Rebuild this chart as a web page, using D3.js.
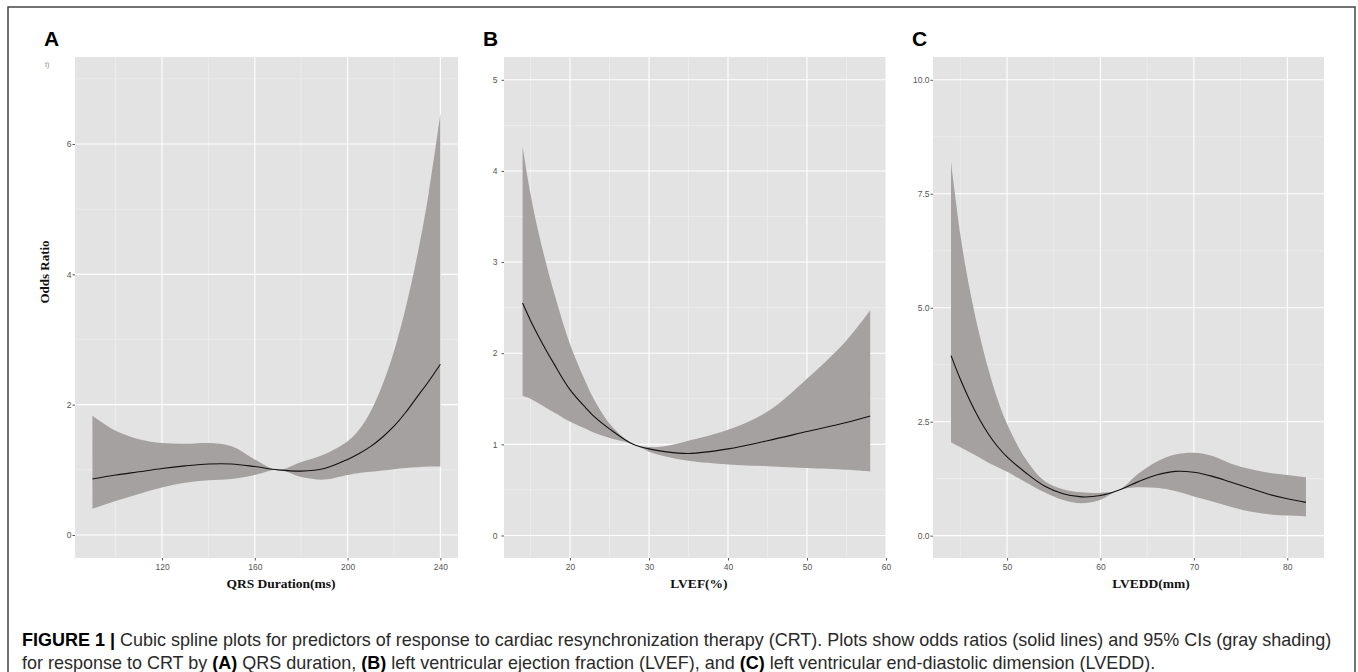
<!DOCTYPE html>
<html>
<head>
<meta charset="utf-8">
<script src="https://cdn.jsdelivr.net/npm/d3@7"></script>
<style>
  body { margin: 0; background: #fff; }
</style>
</head>
<body>
<script>
// Panel A: QRS duration
var qrsX  = [90, 100, 110, 120, 130, 140, 150, 160, 170, 180, 190, 200, 205, 210, 215, 220, 225, 230, 235, 240];
var qrsOR = [0.86, 0.92, 0.97, 1.02, 1.06, 1.09, 1.09, 1.05, 1.00, 0.98, 1.02, 1.16, 1.25, 1.36, 1.50, 1.67, 1.88, 2.12, 2.36, 2.62];
var qrsLo = [0.40, 0.52, 0.63, 0.73, 0.80, 0.84, 0.86, 0.92, 1.00, 0.89, 0.85, 0.92, 0.95, 0.97, 0.99, 1.01, 1.03, 1.04, 1.05, 1.05];
var qrsHi = [1.83, 1.60, 1.47, 1.41, 1.40, 1.41, 1.36, 1.16, 1.00, 1.12, 1.24, 1.44, 1.62, 1.90, 2.30, 2.82, 3.48, 4.28, 5.25, 6.46];
var qrsXTicks = [120, 160, 200, 240];
var qrsXMinor = [100, 140, 180, 220];
var qrsYTicks = [0, 2, 4, 6];
var qrsYMinor = [1, 3, 5, 7];

// Panel B: LVEF
var lvefX  = [14, 15, 16, 17, 18, 20, 22, 23, 25, 28, 30, 32, 35, 40, 45, 50, 55, 58];
var lvefOR = [2.55, 2.36, 2.19, 2.03, 1.88, 1.60, 1.40, 1.31, 1.17, 1.00, 0.95, 0.92, 0.90, 0.95, 1.04, 1.14, 1.24, 1.31];
var lvefLo = [1.53, 1.50, 1.45, 1.40, 1.35, 1.25, 1.17, 1.13, 1.07, 1.00, 0.92, 0.87, 0.82, 0.78, 0.76, 0.74, 0.72, 0.70];
var lvefHi = [4.27, 3.75, 3.33, 2.98, 2.66, 2.10, 1.68, 1.50, 1.23, 1.00, 0.97, 0.98, 1.04, 1.16, 1.36, 1.72, 2.14, 2.47];
var lvefXTicks = [20, 30, 40, 50, 60];
var lvefXMinor = [15, 25, 35, 45, 55];
var lvefYTicks = [0, 1, 2, 3, 4, 5];
var lvefYMinor = [0.5, 1.5, 2.5, 3.5, 4.5];

// Panel C: LVEDD
var lveddX  = [44, 45, 46, 47, 48, 49, 50, 52, 54, 56, 58, 60, 62, 64, 66, 68, 70, 72, 74, 76, 78, 80, 82];
var lveddOR = [3.95, 3.43, 2.97, 2.57, 2.23, 1.95, 1.73, 1.38, 1.09, 0.92, 0.85, 0.88, 1.00, 1.18, 1.33, 1.41, 1.39, 1.30, 1.17, 1.04, 0.91, 0.81, 0.73];
var lveddLo = [2.05, 1.94, 1.83, 1.72, 1.60, 1.50, 1.40, 1.17, 0.95, 0.78, 0.71, 0.79, 1.00, 1.06, 1.05, 0.98, 0.86, 0.75, 0.63, 0.53, 0.47, 0.44, 0.42];
var lveddHi = [8.20, 6.60, 5.40, 4.45, 3.65, 2.98, 2.45, 1.68, 1.20, 1.02, 0.95, 0.94, 1.00, 1.35, 1.62, 1.78, 1.82, 1.75, 1.58, 1.46, 1.38, 1.33, 1.28];
var lveddXTicks = [50, 60, 70, 80];
var lveddXMinor = [45, 55, 65, 75];
var lveddYTicks = [0, 2.5, 5, 7.5, 10];
var lveddYMinor = [1.25, 3.75, 6.25, 8.75];

var width = 1358, height = 672;

var svg = d3.select("body").append("svg")
    .attr("width", width)
    .attr("height", height);

// outer frame
svg.append("rect")
    .attr("x", 8).attr("y", 7)
    .attr("width", 1347).attr("height", 690)
    .attr("fill", "none")
    .attr("stroke", "#444")
    .attr("stroke-width", 1.5);

var panels = [
  { letter: "A", title: "QRS Duration(ms)", titleX: 281,
    left: 75, right: 458, xDomain: [82.48, 247.6], yDomain: [-0.353, 7.335],
    xs: qrsX, or: qrsOR, lo: qrsLo, hi: qrsHi,
    xTicks: qrsXTicks, xMinor: qrsXMinor, yTicks: qrsYTicks, yMinor: qrsYMinor,
    fmt: d3.format("d"), pad: 1, letterX: 44 },
  { letter: "B", title: "LVEF(%)", titleX: 699,
    left: 504, right: 886, xDomain: [11.65, 60], yDomain: [-0.247, 5.25],
    xs: lvefX, or: lvefOR, lo: lvefLo, hi: lvefHi,
    xTicks: lvefXTicks, xMinor: lvefXMinor, yTicks: lvefYTicks, yMinor: lvefYMinor,
    fmt: d3.format("d"), pad: 4, letterX: 483 },
  { letter: "C", title: "LVEDD(mm)", titleX: 1151,
    left: 933, right: 1324, xDomain: [42.07, 83.93], yDomain: [-0.49, 10.5],
    xs: lveddX, or: lveddOR, lo: lveddLo, hi: lveddHi,
    xTicks: lveddXTicks, xMinor: lveddXMinor, yTicks: lveddYTicks, yMinor: lveddYMinor,
    fmt: d3.format(".1f"), pad: 1, letterX: 912 }
];

var plotTop = 57, plotBottom = 558;

panels.forEach(function(p) {
  var x = d3.scaleLinear().domain(p.xDomain).range([p.left, p.right]);
  var y = d3.scaleLinear().domain(p.yDomain).range([plotBottom, plotTop]);

  var g = svg.append("g");

  g.append("rect")
    .attr("x", p.left).attr("y", plotTop)
    .attr("width", p.right - p.left).attr("height", plotBottom - plotTop)
    .attr("fill", "#e3e3e3");

  // minor grid
  g.selectAll(".vminor").data(p.xMinor).enter().append("line")
    .attr("x1", function(d) { return x(d); }).attr("x2", function(d) { return x(d); })
    .attr("y1", plotTop).attr("y2", plotBottom)
    .attr("stroke", "#f2f2f2").attr("stroke-width", 0.6);
  g.selectAll(".hminor").data(p.yMinor).enter().append("line")
    .attr("y1", function(d) { return y(d); }).attr("y2", function(d) { return y(d); })
    .attr("x1", p.left).attr("x2", p.right)
    .attr("stroke", "#f2f2f2").attr("stroke-width", 0.6);

  // major grid
  g.selectAll(".vmajor").data(p.xTicks).enter().append("line")
    .attr("x1", function(d) { return x(d); }).attr("x2", function(d) { return x(d); })
    .attr("y1", plotTop).attr("y2", plotBottom)
    .attr("stroke", "#fff").attr("stroke-width", 1.1);
  g.selectAll(".hmajor").data(p.yTicks).enter().append("line")
    .attr("y1", function(d) { return y(d); }).attr("y2", function(d) { return y(d); })
    .attr("x1", p.left).attr("x2", p.right)
    .attr("stroke", "#fff").attr("stroke-width", 1.1);

  var rows = p.xs.map(function(v, i) {
    return { x: v, or: p.or[i], lo: p.lo[i], hi: p.hi[i] };
  });

  var band = d3.area()
    .curve(d3.curveCatmullRom.alpha(0.5))
    .x(function(d) { return x(d.x); })
    .y0(function(d) { return y(d.lo); })
    .y1(function(d) { return y(d.hi); });

  var line = d3.line()
    .curve(d3.curveCatmullRom.alpha(0.5))
    .x(function(d) { return x(d.x); })
    .y(function(d) { return y(d.or); });

  g.append("path")
    .attr("d", band(rows))
    .attr("fill", "#a5a1a0");

  g.append("path")
    .attr("d", line(rows))
    .attr("fill", "none")
    .attr("stroke", "#111")
    .attr("stroke-width", 1.1);

  // axes
  var xAxis = g.append("g")
    .attr("transform", "translate(0," + plotBottom + ")")
    .call(d3.axisBottom(x).tickValues(p.xTicks).tickSize(2.5).tickPadding(3).tickFormat(d3.format("d")));
  var yAxis = g.append("g")
    .attr("transform", "translate(" + p.left + ",0)")
    .call(d3.axisLeft(y).tickValues(p.yTicks).tickSize(2.5).tickPadding(p.pad).tickFormat(p.fmt));

  [xAxis, yAxis].forEach(function(a) {
    a.select(".domain").remove();
    a.selectAll("line").attr("stroke", "#555");
    a.selectAll("text")
      .attr("fill", "#555")
      .style("font", "8.5px 'Liberation Sans', Arial, sans-serif");
  });

  g.append("text")
    .attr("x", p.titleX).attr("y", 588)
    .attr("text-anchor", "middle")
    .style("font", "bold 13.5px 'Liberation Serif', 'Times New Roman', serif")
    .attr("fill", "#111")
    .text(p.title);

  g.append("text")
    .attr("x", p.letterX).attr("y", 46)
    .style("font", "bold 21px 'Liberation Sans', Arial, sans-serif")
    .attr("fill", "#000")
    .text(p.letter);
});

// y axis title (shared, on panel A)
svg.append("text")
  .attr("transform", "translate(49,272) rotate(-90)")
  .attr("text-anchor", "middle")
  .style("font", "bold 13px 'Liberation Serif', 'Times New Roman', serif")
  .attr("fill", "#111")
  .text("Odds Ratio");

// stray mark top-left of panel A
svg.append("text")
  .attr("x", 45).attr("y", 67)
  .style("font", "7px 'Liberation Sans', Arial, sans-serif")
  .attr("fill", "#888")
  .text("t)");

// caption
var capLines = [
  [["FIGURE 1 | ", true], ["Cubic spline plots for predictors of response to cardiac resynchronization therapy (CRT). Plots show odds ratios (solid lines) and 95% CIs (gray shading)", false]],
  [["for response to CRT by ", false], ["(A)", true], [" QRS duration, ", false], ["(B)", true],
   [" left ventricular ejection fraction (LVEF), and ", false], ["(C)", true],
   [" left ventricular end-diastolic dimension (LVEDD).", false]]
];
var capY = [646, 669];
var capTexts = capLines.map(function(parts, i) {
  var t = svg.append("text")
    .attr("x", 22).attr("y", capY[i])
    .style("font-family", "'Liberation Sans', Arial, sans-serif")
    .style("font-size", "16px");
  parts.forEach(function(pt) {
    t.append("tspan")
      .attr("font-weight", pt[1] ? "bold" : "normal")
      .attr("fill", pt[1] ? "#000" : "#2a2a2a")
      .text(pt[0]);
  });
  return t;
});
// fit the first caption line to the reference width, use same size for both
var w0 = capTexts[0].node().getComputedTextLength();
var fs = 16 * 1310 / w0;
capTexts.forEach(function(t) { t.style("font-size", fs + "px"); });
</script>
</body>
</html>
